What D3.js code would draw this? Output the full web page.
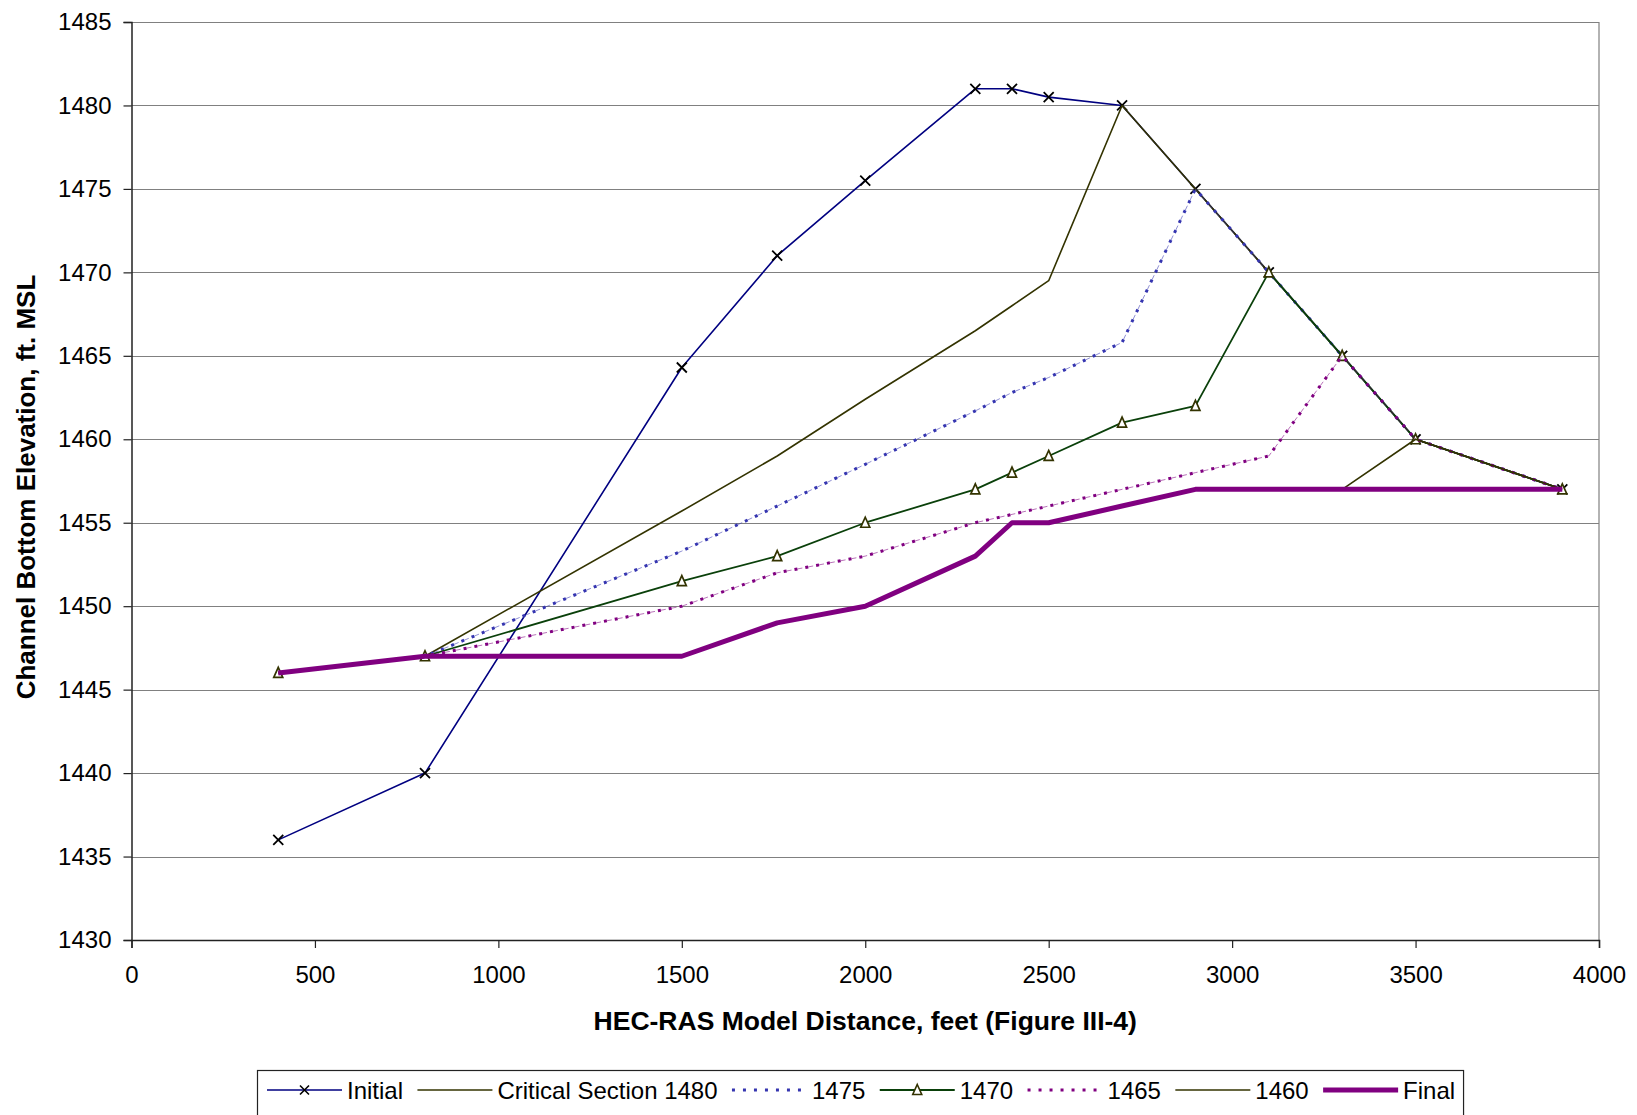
<!DOCTYPE html>
<html>
<head>
<meta charset="utf-8">
<script src="https://cdn.jsdelivr.net/npm/d3@7"></script>
<style>
  html, body { margin: 0; padding: 0; background: #fff; }
  svg { display: block; }
  text { font-family: "Liberation Sans", Arial, sans-serif; fill: #000; }
</style>
</head>
<body>
<svg id="chart" width="1637" height="1115"></svg>
<script>
// ---- data ----
const distances = [400, 800, 1500, 1760, 2000, 2300, 2400, 2500, 2700, 2900, 3100, 3300, 3500, 3900];
const initialVals = [1436, 1440, 1464.3, 1471, 1475.5, 1481, 1481, 1480.5, 1480, 1475, 1470, 1465, 1460, 1457];
const crit1480Vals = [1446, 1447, 1455.7, 1459, 1462.4, 1466.5, 1468, 1469.5, 1480, 1475, 1470, 1465, 1460, 1457];
const s1475Vals = [1446, 1447, 1453.3, 1456, 1458.5, 1461.7, 1462.8, 1463.7, 1465.8, 1475, 1470, 1465, 1460, 1457];
const s1470Vals = [1446, 1447, 1451.5, 1453, 1455, 1457, 1458, 1459, 1461, 1462, 1470, 1465, 1460, 1457];
const s1465Vals = [1446, 1447, 1450, 1452, 1453, 1455, 1455.5, 1456, 1457, 1458, 1459, 1465, 1460, 1457];
const s1460Vals = [1446, 1447, 1447, 1449, 1450, 1453, 1455, 1455, 1456, 1457, 1457, 1457, 1460, 1457];
const finalVals = [1446, 1447, 1447, 1449, 1450, 1453, 1455, 1455, 1456, 1457, 1457, 1457, 1457, 1457];

const seriesNames = ["Initial", "Critical Section 1480", "1475", "1470", "1465", "1460", "Final"];
const xTicks = [0, 500, 1000, 1500, 2000, 2500, 3000, 3500, 4000];
const yTicks = [1430, 1435, 1440, 1445, 1450, 1455, 1460, 1465, 1470, 1475, 1480, 1485];
const xTitle = "HEC-RAS Model Distance, feet (Figure III-4)";
const yTitle = "Channel Bottom Elevation, ft. MSL";

// ---- styles ----
const styles = [
  { color: "#000080", width: 1.6, dash: null, marker: "x" },
  { color: "#333300", width: 1.6, dash: null, marker: null },
  { color: "#3535B0", width: 3, dash: "3,8", marker: null, under: true },
  { color: "#0a400a", width: 1.8, dash: null, marker: "tri" },
  { color: "#800080", width: 3, dash: "3,8", marker: null, under: true },
  { color: "#333300", width: 1.6, dash: null, marker: null },
  { color: "#800080", width: 5, dash: null, marker: null }
];
const allVals = [initialVals, crit1480Vals, s1475Vals, s1470Vals, s1465Vals, s1460Vals, finalVals];

const svg = d3.select("#chart");
const L = 131.5, R = 1599, T = 22, B = 940;
const x = d3.scaleLinear().domain([0, 4000]).range([L, R]);
const y = d3.scaleLinear().domain([1430, 1485]).range([B, T]);

// gridlines
svg.append("g").selectAll("line").data(yTicks.slice(1)).join("line")
  .attr("x1", L).attr("x2", R)
  .attr("y1", d => Math.round(y(d)) + 0.5).attr("y2", d => Math.round(y(d)) + 0.5)
  .attr("stroke", "#808080").attr("stroke-width", 1.2);
// right border
svg.append("line").attr("x1", R).attr("x2", R).attr("y1", T).attr("y2", B)
  .attr("stroke", "#808080").attr("stroke-width", 1.2);

// axes
const yAxis = d3.axisLeft(y).tickValues(yTicks).tickSize(8).tickPadding(12).tickFormat(d3.format("d"));
const xAxis = d3.axisBottom(x).tickValues(xTicks).tickSize(8).tickPadding(18).tickFormat(d3.format("d"));
const gy = svg.append("g").attr("transform", `translate(${L},0)`).call(yAxis);
const gx = svg.append("g").attr("transform", `translate(0,${B})`).call(xAxis);
[gx, gy].forEach(g => {
  g.select(".domain").attr("stroke", "#222").attr("stroke-width", 1.5);
  g.selectAll(".tick line").attr("stroke", "#222").attr("stroke-width", 1.2);
  g.selectAll(".tick text").attr("font-size", 24).attr("fill", "#000")
    .attr("font-family", '"Liberation Sans", Arial, sans-serif');
});

// series lines
const line = d3.line().x(d => x(d[0])).y(d => y(d[1]));
allVals.forEach((vals, i) => {
  const st = styles[i];
  const pts = distances.map((d, j) => [d, vals[j]]);
  const g = svg.append("g");
  if (st.under) {
    g.append("path").datum(pts).attr("d", line)
      .attr("fill", "none").attr("stroke", st.color).attr("stroke-width", 1)
      .attr("stroke-opacity", 0.55).attr("stroke-dasharray", "5,6").attr("stroke-dashoffset", -3);
  }
  g.append("path").datum(pts).attr("d", line)
    .attr("fill", "none").attr("stroke", st.color).attr("stroke-width", st.width)
    .attr("stroke-dasharray", st.dash).attr("stroke-linejoin", "round");
  if (st.marker === "x") {
    g.selectAll("path.m").data(pts).join("path").attr("class", "m")
      .attr("d", d => { const cx = x(d[0]), cy = y(d[1]), s = 5;
        return `M${cx - s},${cy - s}L${cx + s},${cy + s}M${cx - s},${cy + s}L${cx + s},${cy - s}`; })
      .attr("stroke", "#000").attr("stroke-width", 1.8).attr("fill", "none");
  } else if (st.marker === "tri") {
    g.selectAll("path.m").data(pts).join("path").attr("class", "m")
      .attr("d", d => { const cx = x(d[0]), cy = y(d[1]), s = 4.5;
        return `M${cx},${cy - s - 1}L${cx + s},${cy + s}L${cx - s},${cy + s}Z`; })
      .attr("stroke", "#333300").attr("stroke-width", 1.7).attr("fill", "#fff");
  }
});

// axis titles
svg.append("text").attr("x", (L + R) / 2).attr("y", 1030).attr("text-anchor", "middle")
  .attr("font-size", 26.5).attr("font-weight", "bold").text(xTitle);
svg.append("text").attr("transform", `translate(35,${(T + B) / 2 + 6}) rotate(-90)`)
  .attr("text-anchor", "middle").attr("font-size", 26).attr("font-weight", "bold").text(yTitle);

// legend
const lg = svg.append("g");
const box = lg.append("rect").attr("x", 257.5).attr("y", 1070.5).attr("height", 60)
  .attr("fill", "#fff").attr("stroke", "#222").attr("stroke-width", 1.2);
let cx = 267;
const ly = 1090;
seriesNames.forEach((name, i) => {
  const st = styles[i];
  lg.append("line").attr("x1", cx).attr("x2", cx + 75).attr("y1", ly).attr("y2", ly)
    .attr("stroke", st.color).attr("stroke-width", st.width).attr("stroke-dasharray", st.dash);
  const mx = cx + 37.5;
  if (st.marker === "x") {
    lg.append("path").attr("d", `M${mx - 4.5},${ly - 4.5}L${mx + 4.5},${ly + 4.5}M${mx - 4.5},${ly + 4.5}L${mx + 4.5},${ly - 4.5}`)
      .attr("stroke", "#000").attr("stroke-width", 1.6);
  } else if (st.marker === "tri") {
    lg.append("path").attr("d", `M${mx},${ly - 5.5}L${mx + 4.5},${ly + 4.5}L${mx - 4.5},${ly + 4.5}Z`)
      .attr("stroke", "#333300").attr("stroke-width", 1.6).attr("fill", "#fff");
  }
  const t = lg.append("text").attr("x", cx + 80).attr("y", 1098.5).attr("font-size", 24).text(name);
  cx = cx + 80 + t.node().getComputedTextLength() + 14.4;
});
box.attr("width", cx - 257.5 - 6);
</script>
</body>
</html>
